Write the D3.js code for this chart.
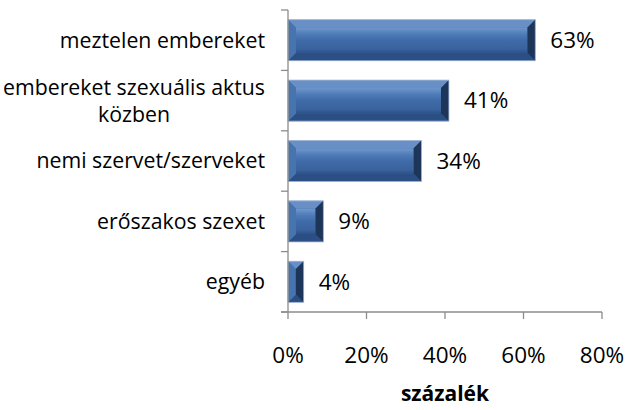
<!DOCTYPE html>
<html><head><meta charset="utf-8">
<script src="https://cdn.jsdelivr.net/npm/d3@7"></script>
<style>body{margin:0;background:#fff}svg{display:block}text{font-family:"Open Sans",sans-serif;fill:#000}</style>
</head><body><svg id="c" width="626" height="410"></svg>
<script>
const categories = ["meztelen embereket", "embereket szexuális aktus közben", "nemi szervet/szerveket", "erőszakos szexet", "egyéb"];
const labelLines = [["meztelen embereket"], ["embereket szexuális aktus", "közben"], ["nemi szervet/szerveket"], ["erőszakos szexet"], ["egyéb"]];
const values = [63, 41, 34, 9, 4];
const xTicks = [0, 20, 40, 60, 80];
const xTitle = "százalék";

const svg = d3.select("#c");
const x = d3.scaleLinear().domain([0, 80]).range([288, 602]);
const y = d3.scaleBand().domain(categories).range([10, 312]).paddingInner(0.32).paddingOuter(0.16);
const axisColor = "#8c8c8c";

const defs = svg.append("defs");
const g1 = defs.append("linearGradient").attr("id","gv").attr("x1",0).attr("y1",0).attr("x2",0).attr("y2",1);
[[0,"#6f97cc"],[0.25,"#4f7cb8"],[0.5,"#3f6ba8"],[0.85,"#3a639d"],[1,"#2c5189"]].forEach(s=>g1.append("stop").attr("offset",s[0]).attr("stop-color",s[1]));

const bars = svg.append("g").selectAll("g").data(categories).join("g");
bars.each(function(c,i){
  const g = d3.select(this);
  const x0 = x(0), x1 = x(values[i]), y0 = y(c), h = y.bandwidth(), y1 = y0 + h;
  const b = Math.min(8, (x1-x0)/2);
  g.append("rect").attr("x",x0).attr("y",y0).attr("width",x1-x0).attr("height",h).attr("fill","#3f6ba8");
  g.append("polygon").attr("points",[[x0,y0],[x1,y0],[x1-b,y0+b],[x0+b,y0+b]].join(" ")).attr("fill","#6990c6");
  g.append("polygon").attr("points",[[x0,y1],[x1,y1],[x1-b,y1-b],[x0+b,y1-b]].join(" ")).attr("fill","#2b4f85");
  g.append("polygon").attr("points",[[x0,y0],[x0+b,y0+b],[x0+b,y1-b],[x0,y1]].join(" ")).attr("fill","#4774ae");
  g.append("polygon").attr("points",[[x1,y0],[x1-b,y0+b],[x1-b,y1-b],[x1,y1]].join(" ")).attr("fill","#1c3558");
  g.append("rect").attr("x",x0+b).attr("y",y0+b).attr("width",Math.max(0,x1-x0-2*b)).attr("height",h-2*b).attr("fill","url(#gv)");
  g.append("rect").attr("x",x0).attr("y",y0).attr("width",x1-x0).attr("height",h).attr("fill","none").attr("stroke","#a9bcd6").attr("stroke-width",0.8);
  svg.append("text").attr("x",x1+15).attr("y",y0+h/2).attr("dy","0.35em").attr("font-size",22.5).text(values[i]+"%");
});

const ya = svg.append("g").attr("transform",`translate(${x(0)},0)`);
ya.append("line").attr("x1",0).attr("x2",0).attr("y1",10).attr("y2",312).attr("stroke",axisColor).attr("stroke-width",1.3);
const bounds = categories.map(c=>y(c)-y.step()*y.paddingInner()/2);
bounds.push(312);
ya.selectAll(".t").data(bounds).join("line").attr("x1",-7).attr("x2",0).attr("y1",d=>d).attr("y2",d=>d).attr("stroke",axisColor).attr("stroke-width",1.3);

categories.forEach((c,i)=>{
  const lines = labelLines[i];
  const lh = 27;
  const cy = y(c)+y.bandwidth()/2;
  const gt = svg.append("g");
  const ts = lines.map((l,j)=>gt.append("text").attr("font-size",21.3).attr("text-anchor","middle").attr("y",cy+(j-(lines.length-1)/2)*lh).attr("dy","0.35em").text(l));
  const w = d3.max(ts, t=>t.node().getComputedTextLength());
  ts.forEach(t=>t.attr("x",265-w/2));
});

const xa = svg.append("g").attr("transform","translate(0,312)");
xa.append("line").attr("x1",x(0)-7).attr("x2",x(80)).attr("stroke",axisColor).attr("stroke-width",1.3);
xa.selectAll(".tk").data(xTicks).join("line").attr("x1",d=>x(d)).attr("x2",d=>x(d)).attr("y1",0).attr("y2",7).attr("stroke",axisColor).attr("stroke-width",1.3);
xa.selectAll(".tl").data(xTicks).join("text").attr("x",d=>x(d)).attr("y",43).attr("dy","0.35em").attr("text-anchor","middle").attr("font-size",22.5).text(d=>d+"%");

svg.append("text").attr("x",445).attr("y",394).attr("dy","0.35em").attr("text-anchor","middle").attr("font-size",21).attr("font-weight","bold").text(xTitle);
</script></body></html>
